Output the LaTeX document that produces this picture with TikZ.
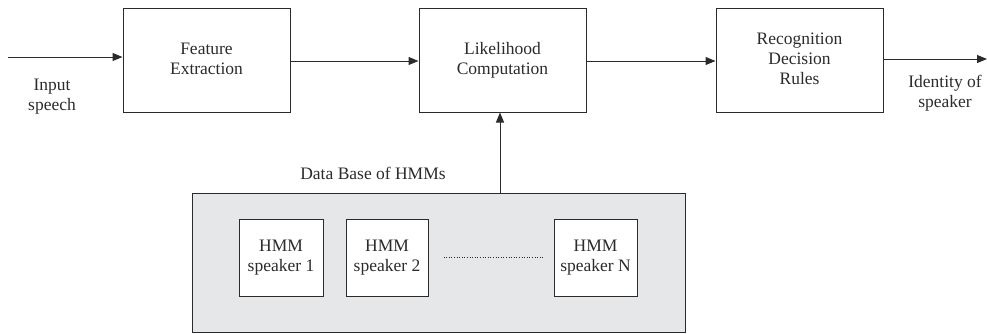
\documentclass[tikz,border=0pt]{standalone}
\usepackage{fontspec}
\setmainfont{Liberation Serif}
\usetikzlibrary{arrows.meta}
\definecolor{lc}{HTML}{2B2B2B}
\definecolor{dbfill}{HTML}{E6E7E8}
\begin{document}
\begin{tikzpicture}[x=1pt,y=-1pt,
  every node/.style={font=\fontsize{17.5}{20}\selectfont, text=lc},
  blk/.style={draw=lc, line width=1pt, fill=white, inner sep=0pt, align=center},
  lbl/.style={align=center, inner sep=0pt},
  arr/.style={draw=lc, line width=1pt, -{Triangle[length=10pt,width=8pt]}}]
\useasboundingbox (0,0) rectangle (987,333);
% main blocks
\node[blk, minimum width=167pt, minimum height=104pt] (fe) at (206.5,60) {\raisebox{-3pt}{\begin{tabular}{@{}c@{}}Feature\\Extraction\end{tabular}}};
\node[blk, minimum width=167pt, minimum height=104pt] (lc) at (502.5,60) {Likelihood\\Computation};
\node[blk, minimum width=167pt, minimum height=104pt] (rd) at (799.5,60) {\raisebox{-3pt}{\begin{tabular}{@{}c@{}}Recognition\\Decision\\Rules\end{tabular}}};
% database
\node[draw=lc, line width=1pt, fill=dbfill, minimum width=493pt, minimum height=139pt, inner sep=0pt] (db) at (438.5,262.5) {};
\node[blk, minimum width=84pt, minimum height=77pt] (h1) at (281,257.5) {HMM\\speaker 1};
\node[blk, minimum width=82pt, minimum height=77pt] (h2) at (387,257.5) {HMM\\speaker 2};
\node[blk, minimum width=83pt, minimum height=77pt] (hn) at (595.5,257.5) {HMM\\speaker N};
\draw[lc, line width=0.6pt, dotted] ([xshift=15pt]h2.east) -- ([xshift=-11pt]hn.west);
% labels
\node[lbl] (in) at (52,97) {Input\\speech};
\node[lbl] (out) at (945,93) {Identity of\\speaker};
\node[lbl] (dbl) at (373,173) {Data Base of HMMs};
% connectors
\coordinate (start) at (8,57);
\coordinate (fin) at (987,59);
\draw[arr] (start) -- (fe.west |- start);
\draw[arr] (fe.east |- 0,61) -- (lc.west |- 0,61);
\draw[arr] (lc.east |- 0,61) -- (rd.west |- 0,61);
\draw[arr] (rd.east |- fin) -- (fin);
\draw[arr] (db.north -| 500,0) -- (lc.south -| 500,0);
\end{tikzpicture}
\end{document}
